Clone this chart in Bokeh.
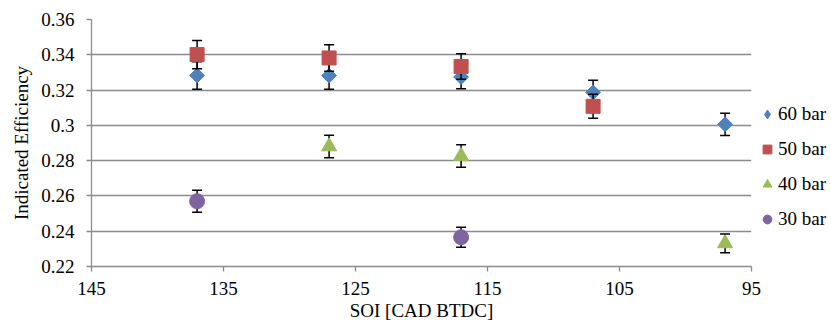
import math
from bokeh.plotting import figure
from bokeh.models import Range1d, FixedTicker, Legend, LegendItem
from bokeh.embed import file_html
from bokeh.resources import INLINE

# ---- data ----
x_ticks = [145, 135, 125, 115, 105, 95]
x_tick_labels = ["145", "135", "125", "115", "105", "95"]
y_ticks = [0.22, 0.24, 0.26, 0.28, 0.30, 0.32, 0.34, 0.36]
y_tick_labels = ["0.22", "0.24", "0.26", "0.28", "0.3", "0.32", "0.34", "0.36"]

soi_60 = [137, 127, 117, 107, 97]
eff_60 = [0.3283, 0.3282, 0.3274, 0.3187, 0.3006]
err_60 = [0.0078, 0.0078, 0.0066, 0.0068, 0.0063]

soi_50 = [137, 127, 117, 107]
eff_50 = [0.3401, 0.3382, 0.3334, 0.3108]
err_50 = [0.0080, 0.0075, 0.0072, 0.0068]

soi_40 = [127, 117, 97]
eff_40 = [0.2880, 0.2826, 0.2331]
err_40 = [0.0064, 0.0064, 0.0053]

soi_30 = [137, 117]
eff_30 = [0.2570, 0.2366]
err_30 = [0.0062, 0.0057]

series_names = ["60 bar", "50 bar", "40 bar", "30 bar"]
colors = ["#4F81BD", "#C0504D", "#9BBB59", "#8064A2"]
markers = ["square", "square", "triangle", "circle"]
angles = [math.pi / 4, 0, 0, 0]
sizes = [10.5, 14, 15, 15]

FONT = "Times New Roman"
GRID = "#8C8C8C"

p = figure(frame_width=660, frame_height=247, output_backend="svg", toolbar_location=None,
           x_range=Range1d(145, 95), y_range=Range1d(0.22, 0.36),
           min_border_left=91, min_border_right=0, min_border_top=19,
           min_border_bottom=56)
p.outline_line_color = None
p.background_fill_color = "white"
p.border_fill_color = "white"

p.xgrid.grid_line_color = None
p.ygrid.grid_line_color = GRID
p.ygrid.grid_line_width = 1.3

for ax in (p.xaxis[0], p.yaxis[0]):
    ax.axis_line_color = GRID
    ax.axis_line_width = 1.3
    ax.major_tick_line_color = GRID
    ax.major_tick_line_width = 1.3
    ax.minor_tick_line_color = None
    ax.major_tick_in = 0
    ax.major_tick_out = 5
    ax.major_label_text_font = FONT
    ax.major_label_text_font_size = "19px"
    ax.major_label_text_color = "black"
    ax.axis_label_text_font = FONT
    ax.axis_label_text_font_size = "19px"
    ax.axis_label_text_font_style = "normal"
    ax.axis_label_text_color = "black"

p.xaxis.ticker = FixedTicker(ticks=x_ticks)
p.xaxis.major_label_overrides = {t: l for t, l in zip(x_ticks, x_tick_labels)}
p.yaxis.ticker = FixedTicker(ticks=y_ticks)
p.yaxis.major_label_overrides = {t: l for t, l in zip(y_ticks, y_tick_labels)}
p.xaxis.axis_label = "SOI [CAD BTDC]"
p.yaxis.axis_label = "Indicated Efficiency"
p.xaxis.major_label_standoff = 10
p.xaxis.axis_label_standoff = 2
p.yaxis.major_label_standoff = 12
p.yaxis.axis_label_standoff = 6

data = [(soi_60, eff_60, err_60), (soi_50, eff_50, err_50),
        (soi_40, eff_40, err_40), (soi_30, eff_30, err_30)]

items = []
for i, ((xs, ys, es), name, c, m, a, s) in enumerate(zip(data, series_names, colors,
                                                         markers, angles, sizes)):
    lo = [y - e for y, e in zip(ys, es)]
    hi = [y + e for y, e in zip(ys, es)]
    p.segment(x0=xs, y0=lo, x1=xs, y1=hi, line_color="black", line_width=1.5)
    p.dash(x=xs, y=lo, size=10, line_color="black", line_width=1.5)
    p.dash(x=xs, y=hi, size=10, line_color="black", line_width=1.5)
    proxy = None
    if a != 0:
        # diamond glyph for the legend, hidden beneath the first rotated marker
        proxy = p.scatter(x=xs[:1], y=ys[:1], marker="diamond", size=14,
                          fill_color=c, line_color=c)
    r = p.scatter(x=xs, y=ys, marker=m, angle=a, size=s, fill_color=c, line_color=c)
    items.append(LegendItem(label=name, renderers=[proxy if proxy is not None else r]))

legend = Legend(items=items, location=(5, 36), orientation="vertical")
legend.label_text_font = FONT
legend.label_text_font_size = "19px"
legend.label_text_color = "black"
legend.border_line_color = None
legend.background_fill_alpha = 0
legend.glyph_width = 22
legend.glyph_height = 22
legend.label_height = 22
legend.spacing = 13
legend.padding = 0
legend.margin = 0
legend.label_standoff = 0
p.add_layout(legend, "right")

open("out.html", "w").write(file_html(p, INLINE))
